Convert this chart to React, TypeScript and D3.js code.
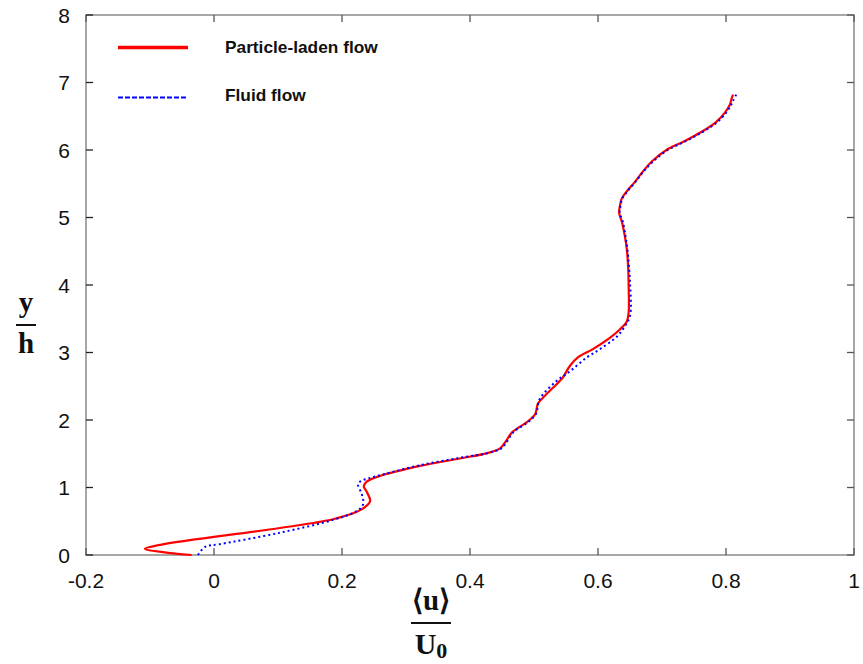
import React from "react";
import * as d3 from "d3";

// Mean streamwise velocity profiles, <u>/U0 against y/h
const particleU = [-0.035, -0.108, -0.084, 0.103, 0.186, 0.223, 0.236, 0.244, 0.239, 0.234, 0.239, 0.259, 0.322, 0.384, 0.427, 0.447, 0.455, 0.466, 0.489, 0.502, 0.506, 0.517, 0.53, 0.545, 0.556, 0.569, 0.592, 0.619, 0.634, 0.645, 0.648, 0.648, 0.647, 0.645, 0.642, 0.6375, 0.633, 0.634, 0.637, 0.646, 0.657, 0.67, 0.684, 0.707, 0.735, 0.762, 0.784, 0.798, 0.806, 0.809, 0.811];
const particleY = [0, 0.09, 0.15, 0.4, 0.53, 0.64, 0.71, 0.8, 0.93, 1.02, 1.09, 1.17, 1.32, 1.43, 1.51, 1.58, 1.67, 1.82, 1.97, 2.09, 2.24, 2.36, 2.48, 2.63, 2.8, 2.93, 3.05, 3.22, 3.34, 3.46, 3.61, 3.93, 4.28, 4.53, 4.72, 4.93, 5.07, 5.16, 5.28, 5.4, 5.52, 5.68, 5.83, 6.0, 6.13, 6.27, 6.41, 6.55, 6.67, 6.77, 6.82];

const fluidU = [-0.025, -0.014, 0.009, 0.103, 0.186, 0.223, 0.233, 0.231, 0.225, 0.231, 0.255, 0.322, 0.384, 0.428, 0.449, 0.457, 0.468, 0.491, 0.503, 0.509, 0.533, 0.556, 0.583, 0.603, 0.63, 0.642, 0.65, 0.65, 0.646, 0.643, 0.639, 0.634, 0.635, 0.638, 0.647, 0.658, 0.671, 0.686, 0.709, 0.737, 0.764, 0.786, 0.8, 0.808, 0.811, 0.816];
const fluidY = [0, 0.12, 0.16, 0.33, 0.52, 0.65, 0.75, 0.9, 1.05, 1.1, 1.17, 1.33, 1.44, 1.51, 1.58, 1.67, 1.82, 1.97, 2.09, 2.31, 2.56, 2.72, 2.93, 3.05, 3.24, 3.39, 3.54, 4.04, 4.53, 4.72, 4.93, 5.07, 5.16, 5.28, 5.4, 5.52, 5.68, 5.83, 6.0, 6.13, 6.27, 6.41, 6.55, 6.67, 6.73, 6.82];

const xTicks = [-0.2, 0, 0.2, 0.4, 0.6, 0.8, 1];
const xTickLabels = ["-0.2", "0", "0.2", "0.4", "0.6", "0.8", "1"];
const yTicks = [0, 1, 2, 3, 4, 5, 6, 7, 8];
const legendLabels = ["Particle-laden flow", "Fluid flow"];

const W = 863;
const H = 664;
const left = 86;
const right = 854;
const top = 15;
const bottom = 555;

export default function App() {
  const x = d3.scaleLinear().domain([-0.2, 1]).range([left, right]);
  const y = d3.scaleLinear().domain([0, 8]).range([bottom, top]);

  const line = d3
    .line<[number, number]>()
    .x((d) => x(d[0]))
    .y((d) => y(d[1]))
    .curve(d3.curveCatmullRom.alpha(0.5));

  const particlePts = particleU.map((u, i) => [u, particleY[i]] as [number, number]);
  const fluidPts = fluidU.map((u, i) => [u, fluidY[i]] as [number, number]);

  const tickLen = 7;
  const sans = "'Liberation Sans', Arial, sans-serif";
  const serif = "'Liberation Serif', 'Times New Roman', serif";

  return (
    <svg
      width={W}
      height={H}
      style={{ position: "absolute", left: 0, top: 0, background: "#fff" }}
    >
      {/* plot frame */}
      <rect
        x={left}
        y={top}
        width={right - left}
        height={bottom - top}
        fill="none"
        stroke="#8a8a8a"
        strokeWidth={1.5}
      />

      {/* x ticks, bottom and top */}
      {xTicks.map((t, i) => (
        <g key={"xt" + i}>
          <line x1={x(t)} x2={x(t)} y1={bottom} y2={bottom - tickLen} stroke="#555" strokeWidth={1.3} />
          <line x1={x(t)} x2={x(t)} y1={top} y2={top + tickLen} stroke="#555" strokeWidth={1.3} />
          <text
            x={x(t)}
            y={588}
            textAnchor="middle"
            fontFamily={sans}
            fontSize={21}
            fill="#111"
          >
            {xTickLabels[i]}
          </text>
        </g>
      ))}

      {/* y ticks, left and right */}
      {yTicks.map((t) => (
        <g key={"yt" + t}>
          <line x1={left} x2={left + tickLen} y1={y(t)} y2={y(t)} stroke="#222" strokeWidth={1.3} />
          <line x1={right} x2={right - tickLen} y1={y(t)} y2={y(t)} stroke="#555" strokeWidth={1.3} />
          <text
            x={70}
            y={y(t) + 7.5}
            textAnchor="end"
            fontFamily={sans}
            fontSize={21}
            fill="#111"
          >
            {t}
          </text>
        </g>
      ))}

      {/* profiles */}
      <path d={line(particlePts) ?? ""} fill="none" stroke="#ff0000" strokeWidth={2.2} />
      <path
        d={line(fluidPts) ?? ""}
        fill="none"
        stroke="#0000ff"
        strokeWidth={2}
        strokeDasharray="2,3"
      />

      {/* legend */}
      <line x1={118} x2={188} y1={47.5} y2={47.5} stroke="#ff0000" strokeWidth={3.5} />
      <text x={225} y={53} fontFamily={sans} fontWeight="bold" fontSize={17.3} fill="#111">
        {legendLabels[0]}
      </text>
      <line
        x1={118}
        x2={188}
        y1={97.5}
        y2={97.5}
        stroke="#0000ff"
        strokeWidth={2.2}
        strokeDasharray="5,2"
      />
      <text x={225} y={101} fontFamily={sans} fontWeight="bold" fontSize={17.3} fill="#111">
        {legendLabels[1]}
      </text>

      {/* y axis title: y / h */}
      <text x={26} y={312} textAnchor="middle" fontFamily={serif} fontWeight="bold" fontSize={29} fill="#111">
        y
      </text>
      <line x1={16} x2={36} y1={325} y2={325} stroke="#111" strokeWidth={2} />
      <text x={26} y={353} textAnchor="middle" fontFamily={serif} fontWeight="bold" fontSize={29} fill="#111">
        h
      </text>

      {/* x axis title: <u> / U0 */}
      <text x={431} y={610} textAnchor="middle" fontFamily={serif} fontWeight="bold" fontSize={29} fill="#111">
        {"\u27E8u\u27E9"}
      </text>
      <line x1={411} x2={451} y1={623} y2={623} stroke="#111" strokeWidth={2} />
      <text x={431} y={654} textAnchor="middle" fontFamily={serif} fontWeight="bold" fontSize={30} fill="#111">
        U<tspan fontSize={22} dy={4}>0</tspan>
      </text>
    </svg>
  );
}
